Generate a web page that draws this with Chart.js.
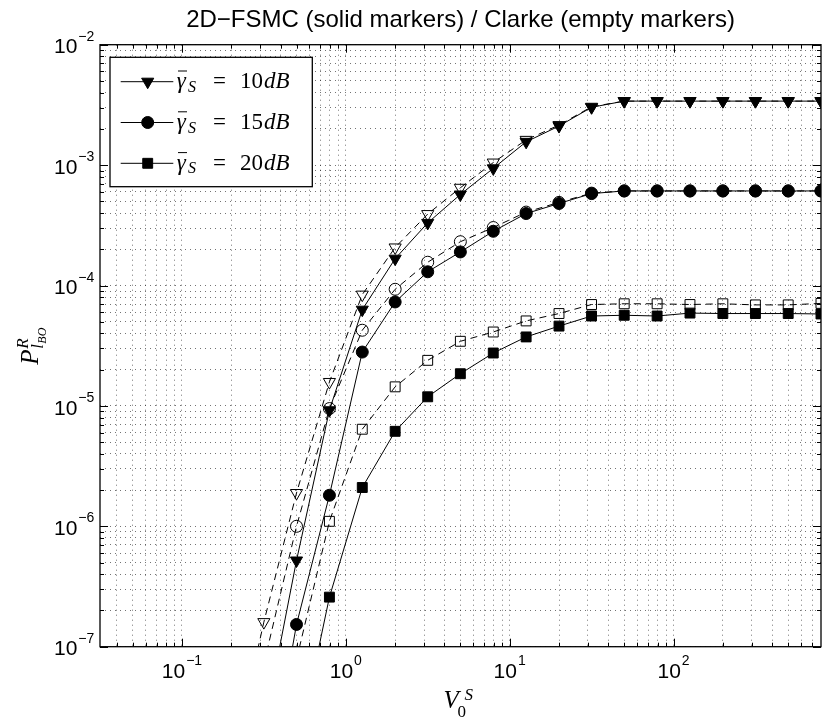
<!DOCTYPE html>
<html lang="en">
  <head>
    <meta charset="utf-8" />
    <title>P_lBO vs V0S</title>
    <style>
      body { margin: 0; background: #fff; }
      #wrap { width: 829px; height: 722px; }
    </style>
  </head>
  <body>
    <div id="wrap">
      <canvas id="canvas" width="829" height="722"></canvas>
    </div>

    <script src="https://cdn.jsdelivr.net/npm/chart.js"></script>

    <script>
      // V0^S sample points (shared by every curve)
      const vS = [0.2, 0.316, 0.5, 0.794, 1.26, 2.0, 3.16, 5.0, 7.94, 12.6, 20, 31.6, 50, 79.4, 126, 200, 316, 501, 794];

      // 2D-FSMC (solid markers)
      const fsmc10 = [null, 2.1e-8, 5.2e-7, 9.2e-6, 6.3e-5, 1.67e-4, 3.31e-4, 5.7e-4, 9.4e-4, 1.56e-3, 2.11e-3, 3.02e-3, 3.4e-3, 3.4e-3, 3.4e-3, 3.4e-3, 3.4e-3, 3.4e-3, 3.4e-3];
      const fsmc15 = [null, 4.5e-9, 1.53e-7, 1.81e-6, 2.8e-5, 7.3e-5, 1.3e-4, 1.9e-4, 2.82e-4, 3.96e-4, 4.8e-4, 5.8e-4, 6.1e-4, 6.1e-4, 6.1e-4, 6.1e-4, 6.1e-4, 6.1e-4, 6.1e-4];
      const fsmc20 = [null, null, 1.3e-8, 2.58e-7, 2.1e-6, 6.15e-6, 1.19e-5, 1.85e-5, 2.75e-5, 3.74e-5, 4.6e-5, 5.58e-5, 5.66e-5, 5.58e-5, 5.9e-5, 5.85e-5, 5.85e-5, 5.85e-5, 5.8e-5];

      // Clarke (empty markers)
      const clarke10 = [1e-8, 1.6e-7, 1.89e-6, 1.58e-5, 8.4e-5, 2.07e-4, 3.92e-4, 6.48e-4, 1.05e-3, 1.62e-3, 2.15e-3, 3.05e-3, 3.4e-3, 3.4e-3, 3.4e-3, 3.4e-3, 3.4e-3, 3.4e-3, 3.4e-3];
      const clarke15 = [null, 7.2e-8, 1.0e-6, 9.5e-6, 4.25e-5, 9.3e-5, 1.56e-4, 2.31e-4, 3.03e-4, 4.07e-4, 4.9e-4, 5.85e-4, 6.1e-4, 6.1e-4, 6.1e-4, 6.1e-4, 6.1e-4, 6.1e-4, 6.1e-4];
      const clarke20 = [null, null, 7.8e-8, 1.1e-6, 6.4e-6, 1.44e-5, 2.39e-5, 3.44e-5, 4.11e-5, 5.08e-5, 5.85e-5, 6.95e-5, 7.05e-5, 7.05e-5, 6.95e-5, 7.05e-5, 6.9e-5, 6.9e-5, 7.1e-5];

      const xMin = 0.0316, xMax = 794.3;
      const yMin = 1e-7, yMax = 1e-2;
      const xTickExps = [-1, 0, 1, 2];
      const yTickExps = [-7, -6, -5, -4, -3, -2];
      const legendDb = ["10", "15", "20"];
      const titleText = "2D\u2212FSMC (solid markers) / Clarke (empty markers)";

      const sans = '"Liberation Sans", Arial, sans-serif';
      const serif = '"Liberation Serif", "Times New Roman", serif';

      function pts(ys) {
        return vS.map((x, i) => ({ x: x, y: ys[i] })).filter((p) => p.y !== null);
      }

      function makeSet(ys, style, filled) {
        const shape = { tri: ["triangle", 7, 180], circ: ["circle", 6, 0], sq: ["rect", 7, 0] }[style];
        return {
          data: pts(ys),
          borderColor: "#000",
          borderWidth: 1,
          borderDash: filled ? [] : [7, 5],
          pointStyle: shape[0],
          pointRadius: shape[1],
          pointRotation: shape[2],
          pointBorderWidth: 1,
          pointBorderColor: "#000",
          pointBackgroundColor: filled ? "#000" : "rgba(0,0,0,0)",
          pointHoverRadius: shape[1],
          tension: 0,
          clip: 0,
        };
      }

      function decadeTicks(min, max) {
        const out = [];
        for (let e = Math.floor(Math.log10(min)); e <= Math.ceil(Math.log10(max)); e++) {
          for (let m = 1; m < 10; m++) {
            const v = m * Math.pow(10, e);
            if (v >= min * 0.9999 && v <= max * 1.0001) out.push({ value: v });
          }
        }
        return out;
      }

      function isPow10(v) {
        const l = Math.log10(v);
        return Math.abs(l - Math.round(l)) < 1e-6;
      }

      function expStr(e) {
        return e < 0 ? "\u2212" + Math.abs(e) : String(e);
      }

      function drawMarker(ctx, kind, x, y) {
        ctx.beginPath();
        if (kind === 0) {
          const r = 7;
          ctx.moveTo(x, y + r);
          ctx.lineTo(x - r * Math.sin(Math.PI / 3), y - r / 2);
          ctx.lineTo(x + r * Math.sin(Math.PI / 3), y - r / 2);
          ctx.closePath();
        } else if (kind === 1) {
          ctx.arc(x, y, 6, 0, Math.PI * 2);
        } else {
          const s = 7 * Math.SQRT1_2;
          ctx.rect(x - s, y - s, 2 * s, 2 * s);
        }
        ctx.fill();
        ctx.stroke();
      }

      const decor = {
        id: "decor",
        afterDraw(chart) {
          const { ctx, chartArea: a } = chart;
          const xs = chart.scales.x, ys = chart.scales.y;
          ctx.save();
          ctx.strokeStyle = "#000";
          ctx.fillStyle = "#000";
          ctx.lineWidth = 1;

          // inward tick marks on all four sides
          ctx.beginPath();
          xs.ticks.forEach((t) => {
            const px = Math.round(xs.getPixelForValue(t.value)) + 0.5;
            const len = isPow10(t.value) ? 8 : 4;
            ctx.moveTo(px, a.bottom); ctx.lineTo(px, a.bottom - len);
            ctx.moveTo(px, a.top); ctx.lineTo(px, a.top + len);
          });
          ys.ticks.forEach((t) => {
            const py = Math.round(ys.getPixelForValue(t.value)) + 0.5;
            const len = isPow10(t.value) ? 8 : 4;
            ctx.moveTo(a.left, py); ctx.lineTo(a.left + len, py);
            ctx.moveTo(a.right, py); ctx.lineTo(a.right - len, py);
          });
          ctx.stroke();

          // box
          ctx.lineWidth = 1.3;
          ctx.strokeRect(a.left, a.top, a.right - a.left, a.bottom - a.top);

          // tick labels 10^n
          const big = "21px " + sans, small = "14px " + sans;
          ctx.textBaseline = "alphabetic";
          ctx.textAlign = "left";
          xTickExps.forEach((e) => {
            const px = xs.getPixelForValue(Math.pow(10, e));
            ctx.font = big; const w1 = ctx.measureText("10").width;
            ctx.font = small; const w2 = ctx.measureText(expStr(e)).width;
            const left = px - (w1 + w2 + 1) / 2;
            ctx.font = big; ctx.fillText("10", left, a.bottom + 31.6);
            ctx.font = small; ctx.fillText(expStr(e), left + w1 + 1, a.bottom + 18.3);
          });
          yTickExps.forEach((e) => {
            const py = ys.getPixelForValue(Math.pow(10, e));
            const right = a.left - 5.7;
            ctx.textAlign = "right";
            ctx.font = small; const w2 = ctx.measureText(expStr(e)).width;
            ctx.fillText(expStr(e), right, py - 4);
            ctx.font = big; ctx.fillText("10", right - w2 - 1, py + 8.6);
          });

          // title
          ctx.textAlign = "center";
          ctx.font = "24px " + sans;
          ctx.fillText(titleText, (a.left + a.right) / 2, 26.7);

          // x axis title V_0^S
          ctx.textAlign = "left";
          const cx = (a.left + a.right) / 2;
          ctx.font = "italic 25px " + serif;
          ctx.fillText("V", cx - 17, 708.3);
          ctx.font = "17px " + serif;
          ctx.fillText("0", cx - 3, 716.7);
          ctx.font = "italic 17px " + serif;
          ctx.fillText("S", cx + 4, 700);

          // y axis title P^R_{l_BO}
          ctx.save();
          const cy = (a.top + a.bottom) / 2;
          ctx.translate(38, cy);
          ctx.rotate(-Math.PI / 2);
          ctx.font = "italic 25px " + serif;
          ctx.fillText("P", -19, 0);
          ctx.font = "italic 17px " + serif;
          ctx.fillText("R", -3, -10);
          ctx.fillText("l", -3, 5);
          ctx.font = "italic 12px " + serif;
          ctx.fillText("BO", 2, 8);
          ctx.restore();

          // legend
          const lx = a.left + 10, ly = a.top + 12.6, lw = 202.3, lh = 129.4;
          ctx.fillStyle = "#fff";
          ctx.fillRect(lx, ly, lw, lh);
          ctx.lineWidth = 1.3;
          ctx.strokeRect(lx, ly, lw, lh);
          ctx.lineWidth = 1;
          ctx.fillStyle = "#000";
          legendDb.forEach((db, i) => {
            const ry = ly + 24.4 + i * 40.8;
            ctx.beginPath();
            ctx.moveTo(lx + 10.7, ry); ctx.lineTo(lx + 63.3, ry);
            ctx.stroke();
            drawMarker(ctx, i, lx + 37.7, ry);
            const base = ry + 6.6;
            ctx.textAlign = "left";
            ctx.font = "italic 23px " + serif;
            ctx.fillText("\u03b3", lx + 66.7, base);
            ctx.beginPath();
            ctx.moveTo(lx + 68, ry - 10.7); ctx.lineTo(lx + 77, ry - 10.7);
            ctx.stroke();
            ctx.font = "italic 16px " + serif;
            ctx.fillText("S", lx + 78, base + 3.5);
            ctx.font = "23px " + serif;
            ctx.fillText("=", lx + 103, base);
            ctx.fillText(db, lx + 130, base);
            ctx.font = "italic 23px " + serif;
            ctx.fillText("dB", lx + 154, base);
          });
          ctx.restore();
        },
      };

      const ctx = document.getElementById("canvas");
      new Chart(ctx, {
        type: "line",
        data: {
          datasets: [
            makeSet(fsmc10, "tri", true),
            makeSet(fsmc15, "circ", true),
            makeSet(fsmc20, "sq", true),
            makeSet(clarke10, "tri", false),
            makeSet(clarke15, "circ", false),
            makeSet(clarke20, "sq", false),
          ],
        },
        options: {
          responsive: false,
          animation: false,
          layout: { padding: { left: 100, right: 2.3, top: 44.7, bottom: 75.3 } },
          plugins: { legend: { display: false }, tooltip: { enabled: false } },
          scales: {
            x: {
              type: "logarithmic",
              min: xMin,
              max: xMax,
              afterBuildTicks: (scale) => { scale.ticks = decadeTicks(xMin, xMax); },
              ticks: { display: false },
              grid: { color: "rgba(0,0,0,0.55)", lineWidth: 1, drawTicks: false },
              border: { display: false, dash: [1, 4] },
            },
            y: {
              type: "logarithmic",
              min: yMin,
              max: yMax,
              afterBuildTicks: (scale) => { scale.ticks = decadeTicks(yMin, yMax); },
              ticks: { display: false },
              grid: { color: "rgba(0,0,0,0.55)", lineWidth: 1, drawTicks: false },
              border: { display: false, dash: [1, 4] },
            },
          },
        },
        plugins: [decor],
      });
    </script>
  </body>
</html>
